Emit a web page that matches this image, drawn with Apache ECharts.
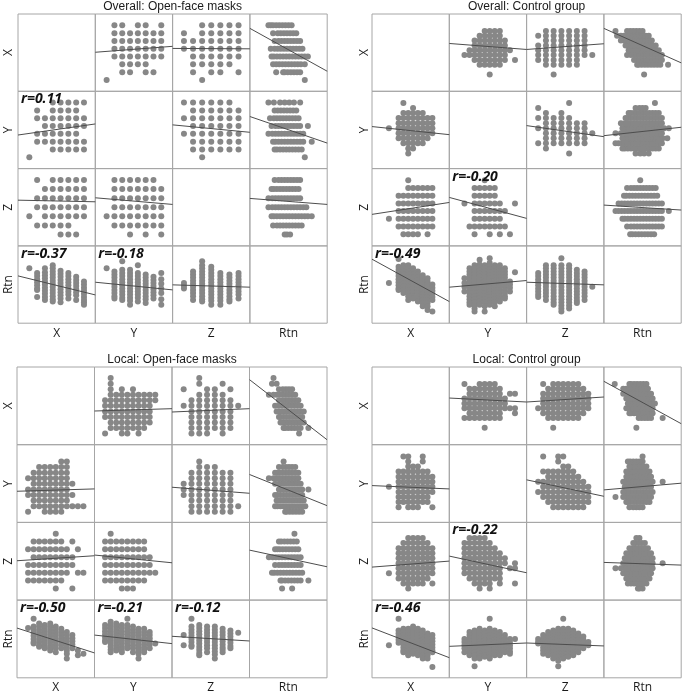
<!DOCTYPE html>
<html>
<head>
<meta charset="utf-8">
<script src="https://cdn.jsdelivr.net/npm/echarts/dist/echarts.min.js"></script>
<style>
  html, body { margin: 0; padding: 0; background: #fff; }
  #chart { width: 685px; height: 695px; }
</style>
</head>
<body>
<div id="chart"></div>
<script>
var VARS = ['X', 'Y', 'Z', 'Rtn'];

// X, Y, Z are discrete levels (0, 1, 2 ...); Rtn is read on a 0-100 scale.
// Masks: rows = later variable from high to low, columns = earlier variable from low to high.
// Rtn lists: Rtn values found at each level of the other variable.

// ---------- Overall: Open-face masks ----------
var ovOpenRange = { X: [-1.45, 8.45], Y: [-1.45, 8.45], Z: [-1.25, 7.25], Rtn: [0, 100] };
var ovOpenXY = [
    "...#####",
    ".#.####.",
    ".#######",
    "..######",
    ".######.",
    ".#######",
    "...#####",
    "#......."
];
var ovOpenXZ = [
    ".#.#####",
    "..######",
    ".#######",
    ".#######",
    "#.######",
    ".#####..",
    "....###."
];
var ovOpenYZ = [
    ".######.",
    ".#######",
    ".#######",
    ".#######",
    "########",
    ".#######",
    "...#.#.#"
];
var ovOpenXRtn = [
    [71],
    [65, 61, 57, 53, 49, 45, 43, 34],
    [71, 66, 62, 58, 54, 50, 46, 42, 38, 34, 30],
    [75, 71, 67, 63, 59, 55, 51, 47, 43, 39, 35, 31, 28],
    [68, 64, 60, 56, 52, 48, 44, 40, 36, 32, 27],
    [65, 61, 57, 53, 49, 45, 41, 37, 32],
    [60, 56, 52, 48, 44, 40, 36, 30],
    [54, 50, 46, 42, 38, 34, 30, 27, 24]
];
var ovOpenYRtn = [
    [71],
    [67, 63, 59, 55, 51, 47, 43, 39, 35, 32],
    [80, 69, 65, 61, 57, 53, 49, 45, 41, 37, 33, 30],
    [69, 65, 61, 57, 53, 49, 45, 41, 37, 33, 29, 24],
    [75, 65, 61, 57, 53, 49, 45, 41, 37, 33, 28],
    [63, 59, 55, 51, 47, 43, 39, 35, 31, 26],
    [60, 56, 52, 48, 44, 40, 36, 32],
    [65, 57, 51, 45, 39, 31, 24]
];
var ovOpenZRtn = [
    [52, 48, 45],
    [67, 63, 59, 55, 51, 47, 43, 39, 35, 30],
    [80, 75, 71, 67, 63, 59, 55, 51, 47, 43, 39, 35, 31, 28],
    [73, 69, 65, 61, 57, 53, 49, 45, 41, 37, 33, 29, 24],
    [65, 61, 57, 53, 49, 45, 41, 37, 33, 29, 24],
    [63, 59, 55, 51, 47, 43, 39, 35, 31, 28],
    [65, 61, 57, 53, 49, 45, 41, 37, 32]
];
// fit line: value at the left and right edge of each cell (row-col)
var ovOpenLines = {
    'X-Y': [3.55, 4.31], 'X-Z': [4.04, 3.99], 'X-Rtn': [6.61, 1.12],
    'Y-X': [2.85, 4.27], 'Y-Z': [4.15, 3.2], 'Y-Rtn': [5.22, 1.82],
    'Z-X': [3.78, 3.6], 'Z-Y': [4.04, 3.31], 'Z-Rtn': [3.97, 3.31],
    'Rtn-X': [61.2, 36.6], 'Rtn-Y': [53, 43.1], 'Rtn-Z': [49.6, 46.6]
};
var ovOpenR = { 'Y-X': 'r=0.11', 'Rtn-X': 'r=-0.37', 'Rtn-Y': 'r=-0.18' };

// ---------- Overall: Control group ----------
var ovCtrlRange = { X: [-3.5, 12.5], Y: [-3, 12.3], Z: [-1.5, 8.5], Rtn: [0, 100] };
var ovCtrlXY = [
    "...#......",
    ".....#....",
    "...#####..",
    "..########",
    "..########",
    "#.########",
    "..########",
    "..#######.",
    "...#####..",
    "....##....",
    "....#....."
];
var ovCtrlXZ = [
    "....#.....",
    "....######",
    "..########",
    "..########",
    "..########",
    "#.########",
    "..########",
    "...####.#."
];
var ovCtrlYZ = [
    "....#......",
    "..#####....",
    "..#####....",
    "#.######..#",
    "..#######..",
    "..######...",
    ".########..",
    "..#..#.#.#."
];
var ovCtrlXRtn = [
    [52],
    [],
    [83, 73, 69, 65, 61, 57, 53, 49, 45, 43],
    [75, 71, 67, 63, 59, 55, 51, 47, 43, 39],
    [75, 71, 67, 63, 59, 55, 51, 47, 43, 39, 35, 30],
    [71, 67, 63, 59, 55, 51, 47, 43, 39, 35, 32],
    [67, 63, 59, 55, 51, 47, 43, 39, 35, 31, 28],
    [62, 58, 54, 50, 46, 42, 38, 34, 30, 26, 22],
    [58, 54, 50, 46, 42, 38, 34, 30, 26, 22, 17],
    [50, 46, 42, 38, 34, 30, 15]
];
var ovCtrlYRtn = [
    [58, 52, 47, 41],
    [71, 67, 63, 59, 55, 51, 47, 43, 39, 35, 31, 27, 24],
    [75, 71, 67, 63, 59, 55, 51, 47, 43, 39, 35, 31, 27, 23, 19, 15],
    [82, 76, 72, 68, 64, 60, 56, 52, 48, 44, 40, 36, 32, 28, 24],
    [75, 71, 67, 63, 59, 55, 51, 47, 43, 39, 35, 31, 27, 22, 15],
    [84, 78, 74, 70, 66, 62, 58, 54, 50, 46, 42, 38, 34, 30, 26, 24],
    [75, 71, 67, 63, 59, 55, 51, 47, 43, 39, 35, 31, 27, 22],
    [75, 71, 67, 63, 59, 55, 51, 47, 43, 39, 35, 31, 28],
    [71, 67, 63, 59, 55, 51, 47, 43, 39, 35, 32],
    [54, 50, 46, 41],
    [66]
];
var ovCtrlZRtn = [
    [65, 61, 57, 53, 49, 45, 41, 37, 34],
    [75, 71, 67, 63, 59, 55, 51, 47, 43, 39, 35, 30],
    [75, 71, 67, 63, 59, 55, 51, 47, 43, 39, 35, 31, 27, 24],
    [84, 75, 71, 67, 63, 59, 55, 51, 47, 43, 39, 35, 31, 27, 23, 19, 15],
    [75, 71, 67, 63, 59, 55, 51, 47, 43, 39, 35, 31, 27, 23, 19],
    [69, 65, 61, 57, 53, 49, 45, 41, 37, 33, 29, 26],
    [67, 63, 59, 55, 51, 47, 43, 39, 35, 30],
    [47]
];
var ovCtrlLines = {
    'X-Y': [6.4, 5.16], 'X-Z': [5.16, 6.34], 'X-Rtn': [9.52, 2.39],
    'Y-X': [5.32, 3.72], 'Y-Z': [5.51, 3.32], 'Y-Rtn': [3.52, 5.18],
    'Z-X': [2.58, 4.12], 'Z-Y': [4.77, 2.06], 'Z-Rtn': [3.78, 3.14],
    'Rtn-X': [82.8, 28], 'Rtn-Y': [46.6, 55.2], 'Rtn-Z': [53, 49.6]
};
var ovCtrlR = { 'Z-Y': 'r=-0.20', 'Rtn-X': 'r=-0.49' };

// ---------- Local: Open-face masks ----------
var lcOpenRange = { X: [-2, 12], Y: [-1.9, 12], Z: [-1.5, 8.45], Rtn: [0, 100] };
var lcOpenXY = [
    "......##...",
    "..######...",
    ".#######...",
    "########...",
    ".########..",
    "########...",
    "#########..",
    ".#######...",
    ".##########",
    "#..####...."
];
var lcOpenXZ = [
    ".....#.....",
    ".######.#..",
    "########.#.",
    ".########..",
    "#########..",
    "########.##",
    "#######....",
    ".....#..#.."
];
var lcOpenYZ = [
    ".#........",
    "########..",
    "########..",
    "#########.",
    "#########.",
    "##########",
    "########..",
    "...###...."
];
var lcOpenXRtn = [
    [64],
    [76, 66, 62, 58, 54, 50, 46, 44],
    [70, 66, 62, 58, 54, 50, 46, 42, 40],
    [68, 64, 60, 56, 52, 48, 44, 40, 38],
    [70, 66, 62, 58, 54, 50, 46, 42, 38, 35],
    [66, 62, 58, 54, 50, 46, 42, 38, 33],
    [63, 59, 55, 51, 47, 43, 38],
    [59, 55, 51, 47, 43, 39, 35, 31, 25],
    [55, 51, 47, 43, 38],
    [35, 29],
    [31]
];
var lcOpenYRtn = [
    [68, 64, 60, 56, 52, 48, 46],
    [72, 68, 64, 60, 56, 52, 48, 44, 40, 36, 33],
    [70, 66, 62, 58, 54, 50, 46, 42, 38, 35],
    [68, 64, 60, 56, 52, 48, 44, 40, 36, 33],
    [76, 68, 64, 60, 56, 52, 48, 44, 40, 38],
    [66, 62, 58, 54, 50, 46, 42, 38, 33],
    [63, 59, 55, 51, 47, 43, 39, 35, 31, 25],
    [63, 59, 55, 51, 47, 43, 39, 36, 33],
    [59, 55, 51, 47, 43, 38],
    [44]
];
var lcOpenZRtn = [
    [55, 42],
    [76, 66, 62, 58, 54, 50, 46, 42, 40],
    [68, 64, 60, 56, 52, 48, 44, 40, 36, 32, 29],
    [66, 62, 58, 54, 50, 46, 42, 38, 33],
    [66, 62, 58, 54, 50, 46, 42, 38, 34, 30, 25],
    [63, 59, 55, 51, 47, 43, 39, 36, 33],
    [61, 57, 53, 49, 45, 41, 38],
    [58]
];
var lcOpenLines = {
    'X-Y': [4.07, 4.49], 'X-Z': [3.89, 4.49], 'X-Rtn': [9.72, -1.1],
    'Y-X': [3.67, 4.09], 'Y-Z': [4.39, 3.31], 'Y-Rtn': [6.67, 1.1],
    'Z-X': [3.54, 4.18], 'Z-Y': [4.27, 3.28], 'Z-Rtn': [4.9, 2.77],
    'Rtn-X': [64, 32], 'Rtn-Y': [55, 44], 'Rtn-Z': [53.4, 47.4]
};
var lcOpenR = { 'Rtn-X': 'r=-0.50', 'Rtn-Y': 'r=-0.21', 'Rtn-Z': 'r=-0.12' };

// ---------- Local: Control group ----------
var lcCtrlRange = { X: [-3.5, 12.5], Y: [-3, 12.3], Z: [-2.3, 13.1], Rtn: [0, 100] };
var lcCtrlXY = [
    "...##..#..",
    "....#..#..",
    "....###...",
    "..#######.",
    "..########",
    "..########",
    "#.########",
    "..########",
    "..#######.",
    "..#######.",
    "..#.###..#"
];
var lcCtrlXZ = [
    "....####..",
    "...######.",
    "..########",
    "..########",
    "..########",
    "..########",
    "..########",
    "#.########",
    "..#######.",
    "...#####.#",
    "....#....."
];
var lcCtrlYZ = [
    ".####......",
    "######.....",
    "#######....",
    "########...",
    "#########..",
    "#########.#",
    "########.##",
    "########...",
    ".#######...",
    "..####.#..#",
    "...#.#....."
];
var lcCtrlXRtn = [
    [42],
    [],
    [76, 61, 57, 53, 49, 45],
    [63, 59, 55, 51, 47, 43, 39, 35, 33],
    [63, 59, 55, 51, 47, 43, 39, 35, 31, 29],
    [66, 62, 58, 54, 50, 46, 42, 38, 34, 31],
    [63, 59, 55, 51, 47, 43, 39, 35, 31, 29],
    [61, 57, 53, 49, 45, 41, 37, 33, 29, 25],
    [57, 53, 49, 45, 41, 37, 33, 29, 25],
    [55, 51, 47, 43, 39, 35, 33, 14]
];
var lcCtrlYRtn = [
    [50, 46, 42, 38, 33],
    [59, 55, 51, 47, 43, 39, 35, 31, 29],
    [61, 57, 53, 49, 45, 41, 37, 33, 29, 25, 15],
    [63, 59, 55, 51, 47, 43, 39, 35, 31, 27, 25],
    [61, 57, 53, 49, 45, 41, 37, 33, 29, 27],
    [76, 63, 59, 55, 51, 47, 43, 39, 35, 31, 27, 25],
    [61, 57, 53, 49, 45, 41, 37, 33, 29],
    [59, 55, 51, 47, 43, 39, 35, 31, 29],
    [55, 51, 47, 43, 39, 35, 33],
    [50, 46, 42, 38, 34, 31],
    [50]
];
var lcCtrlZRtn = [
    [50, 46, 44],
    [55, 51, 47, 43, 39, 35, 31],
    [59, 55, 51, 47, 43, 39, 35, 31, 29],
    [61, 57, 53, 49, 45, 41, 37, 33, 29, 25],
    [63, 59, 55, 51, 47, 43, 39, 35, 31, 27, 22, 15],
    [76, 63, 59, 55, 51, 47, 43, 39, 35, 31, 27, 25],
    [63, 59, 55, 51, 47, 43, 39, 35, 31, 27],
    [61, 57, 53, 49, 45, 41, 37, 33, 29],
    [57, 53, 49, 45, 41, 37, 33],
    [53, 49, 45, 41, 38],
    [46, 42]
];
var lcCtrlLines = {
    'X-Y': [6.11, 5.29], 'X-Z': [5.29, 6.32], 'X-Rtn': [9.55, 0.83],
    'Y-X': [4.25, 3.59], 'Y-Z': [5.38, 2.14], 'Y-Rtn': [3.4, 4.72],
    'Z-X': [4.24, 5.43], 'Z-Y': [6.42, 3.12], 'Z-Rtn': [5.17, 4.64],
    'Rtn-X': [64.2, 25.9], 'Rtn-Y': [40.5, 44.8], 'Rtn-Z': [44.8, 41]
};
var lcCtrlR = { 'Z-Y': 'r=-0.22', 'Rtn-X': 'r=-0.46' };

// box: [left, top, cell width, cell height]
var panels = [
    { title: 'Overall: Open-face masks', box: [18, 14, 77.3, 77.3], labelX: 8.5, colY: 334, range: ovOpenRange,
      XY: ovOpenXY, XZ: ovOpenXZ, YZ: ovOpenYZ, XRtn: ovOpenXRtn, YRtn: ovOpenYRtn, ZRtn: ovOpenZRtn, lines: ovOpenLines, r: ovOpenR },
    { title: 'Overall: Control group', box: [372, 14, 77.3, 77.3], labelX: 365, colY: 334, range: ovCtrlRange,
      XY: ovCtrlXY, XZ: ovCtrlXZ, YZ: ovCtrlYZ, XRtn: ovCtrlXRtn, YRtn: ovCtrlYRtn, ZRtn: ovCtrlZRtn, lines: ovCtrlLines, r: ovCtrlR },
    { title: 'Local: Open-face masks', box: [17, 367, 77.5, 77.7], labelX: 8.5, colY: 688, range: lcOpenRange,
      XY: lcOpenXY, XZ: lcOpenXZ, YZ: lcOpenYZ, XRtn: lcOpenXRtn, YRtn: lcOpenYRtn, ZRtn: lcOpenZRtn, lines: lcOpenLines, r: lcOpenR },
    { title: 'Local: Control group', box: [372, 367, 77.3, 77.7], labelX: 365, colY: 688, range: lcCtrlRange,
      XY: lcCtrlXY, XZ: lcCtrlXZ, YZ: lcCtrlYZ, XRtn: lcCtrlXRtn, YRtn: lcCtrlYRtn, ZRtn: lcCtrlZRtn, lines: lcCtrlLines, r: lcCtrlR }
];

// points of one cell: lower cells plot (earlier var, later var), upper cells the transpose
function cellPoints(p, row, col) {
    var early = VARS.indexOf(row) < VARS.indexOf(col) ? row : col;
    var late = early === row ? col : row;
    var lower = row === late;
    var src = p[early + late];
    var pts = [];
    if (late === 'Rtn') {
        src.forEach(function (vals, lev) {
            vals.forEach(function (v) {
                pts.push(lower ? [lev, v] : [v, lev]);
            });
        });
    } else {
        var n = src.length;
        src.forEach(function (s, r) {
            var lateLev = n - 1 - r;
            for (var c = 0; c < s.length; c++) {
                if (s.charAt(c) === '#') pts.push(lower ? [c, lateLev] : [lateLev, c]);
            }
        });
    }
    return pts;
}

var chart = echarts.init(document.getElementById('chart'));
var option = {
    animation: false,
    backgroundColor: '#fff',
    grid: [], xAxis: [], yAxis: [], series: [], graphic: []
};

panels.forEach(function (p) {
    var L = p.box[0], T = p.box[1], W = p.box[2], H = p.box[3];
    option.graphic.push({
        type: 'text', x: L + 2 * W, y: T - 7, z: 10,
        style: { text: p.title, fill: '#1a1a1a', fontSize: 12, fontFamily: 'Liberation Sans', align: 'center', verticalAlign: 'middle' }
    });
    VARS.forEach(function (row, i) {
        option.graphic.push({
            type: 'text', x: p.labelX, y: T + (i + 0.5) * H, rotation: Math.PI / 2, z: 10,
            style: { text: row, fill: '#1a1a1a', fontSize: 12, fontFamily: 'Open Sans', align: 'center', verticalAlign: 'middle' }
        });
        option.graphic.push({
            type: 'text', x: L + (i + 0.5) * W, y: p.colY, z: 10,
            style: { text: row, fill: '#1a1a1a', fontSize: 12, fontFamily: 'Open Sans', align: 'center', verticalAlign: 'middle' }
        });
        VARS.forEach(function (col, j) {
            var gi = option.grid.length;
            var left = L + j * W, top = T + i * H;
            option.grid.push({ left: left, top: top, width: W, height: H, show: true, borderColor: '#a6a6a6', borderWidth: 1 });
            option.xAxis.push({ gridIndex: gi, type: 'value', min: p.range[col][0], max: p.range[col][1], show: false });
            option.yAxis.push({ gridIndex: gi, type: 'value', min: p.range[row][0], max: p.range[row][1], show: false });
            if (i === j) return;
            option.series.push({
                type: 'scatter', xAxisIndex: gi, yAxisIndex: gi, silent: true,
                symbolSize: 6, itemStyle: { color: '#878787', opacity: 1 },
                data: cellPoints(p, row, col)
            });
            var ln = p.lines[row + '-' + col];
            option.series.push({
                type: 'line', xAxisIndex: gi, yAxisIndex: gi, silent: true, z: 3,
                symbol: 'none', lineStyle: { color: '#4d4d4d', width: 1 },
                data: [[p.range[col][0], ln[0]], [p.range[col][1], ln[1]]]
            });
            var rt = p.r[row + '-' + col];
            if (rt) {
                option.graphic.push({
                    type: 'text', x: left + 3, y: top + 8, z: 10,
                    style: { text: rt, fill: '#111', fontSize: 14, fontWeight: 'bold', fontStyle: 'italic', fontFamily: 'Open Sans', align: 'left', verticalAlign: 'middle' }
                });
            }
        });
    });
});

chart.setOption(option);
</script>
</body>
</html>
